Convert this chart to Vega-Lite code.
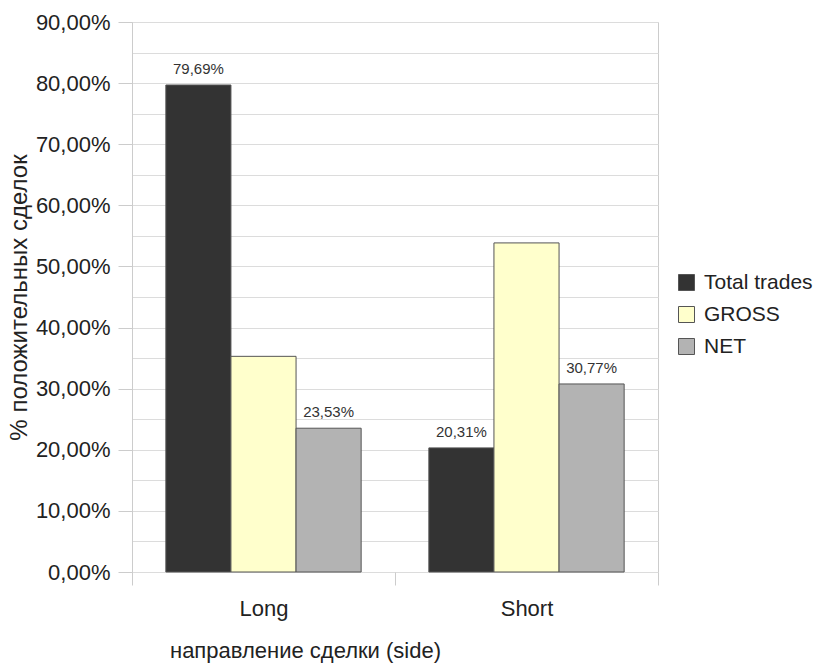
{
  "$schema": "https://vega.github.io/schema/vega-lite/v6.json",
  "width": 526,
  "height": 550,
  "autosize": {"type": "none"},
  "padding": {"left": 132, "top": 22, "right": 163, "bottom": 94},
  "background": "white",
  "config": {
    "locale": {"number": {"decimal": ",", "thousands": " ", "grouping": [3], "currency": ["", ""]}},
    "font": "Liberation Sans",
    "view": {"stroke": "#cccccc", "strokeWidth": 1}
  },
  "data": {
    "values": [
      {"side": "Long", "series": "Total trades", "value": 0.7969, "show": true},
      {"side": "Long", "series": "GROSS", "value": 0.3529, "show": false},
      {"side": "Long", "series": "NET", "value": 0.2353, "show": true},
      {"side": "Short", "series": "Total trades", "value": 0.2031, "show": true},
      {"side": "Short", "series": "GROSS", "value": 0.5385, "show": false},
      {"side": "Short", "series": "NET", "value": 0.3077, "show": true}
    ]
  },
  "encoding": {
    "x": {
      "field": "side", "type": "nominal",
      "scale": {"paddingInner": 0, "paddingOuter": 0},
      "axis": {
        "title": "направление сделки (side)",
        "labelAngle": 0, "labelFontSize": 22, "labelColor": "#222", "labelPadding": 13,
        "tickBand": "extent", "tickSize": 13, "tickColor": "#cccccc",
        "domain": false, "grid": false,
        "titleFontSize": 22, "titleFontWeight": "normal", "titleColor": "#222",
        "titleX": 173, "titleY": 78, "titleAlign": "center", "titleBaseline": "middle"
      }
    },
    "xOffset": {
      "field": "series", "type": "nominal",
      "sort": ["Total trades", "GROSS", "NET"],
      "scale": {"paddingInner": 0, "paddingOuter": 0.52}
    },
    "y": {
      "field": "value", "type": "quantitative",
      "scale": {"domain": [0, 0.9], "nice": false},
      "axis": {
        "title": "% положительных сделок",
        "values": [0, 0.05, 0.1, 0.15, 0.2, 0.25, 0.3, 0.35, 0.4, 0.45, 0.5, 0.55, 0.6, 0.65, 0.7, 0.75, 0.8, 0.85, 0.9],
        "format": ".2%",
        "labelExpr": "(round(datum.value*100) % 10 == 0) ? datum.label : ''",
        "labelFontSize": 22, "labelColor": "#222", "labelPadding": 8,
        "tickSize": 14,
        "tickColor": {"condition": {"test": "round(datum.value*100) % 10 != 0", "value": "transparent"}, "value": "#cccccc"},
        "gridColor": "#dcdcdc",
        "domainColor": "#cccccc",
        "titleFontSize": 24, "titleFontWeight": "normal", "titleColor": "#222",
        "titleX": -113, "titleY": 275, "titleAngle": -90, "titleAlign": "center", "titleBaseline": "middle"
      }
    }
  },
  "layer": [
    {
      "mark": {"type": "bar", "stroke": "#555555", "strokeWidth": 1},
      "encoding": {
        "color": {
          "field": "series", "type": "nominal",
          "sort": ["Total trades", "GROSS", "NET"],
          "scale": {"domain": ["Total trades", "GROSS", "NET"], "range": ["#333333", "#ffffcc", "#b3b3b3"]},
          "legend": {
            "title": null, "orient": "none", "legendX": 544, "legendY": 250,
            "symbolType": "square", "symbolSize": 256, "symbolStrokeColor": "#555555", "symbolStrokeWidth": 1,
            "labelFontSize": 21, "labelColor": "#222", "labelOffset": 7, "rowPadding": 10
          }
        }
      }
    },
    {
      "transform": [{"filter": "datum.show"}],
      "mark": {"type": "text", "baseline": "bottom", "dy": -8, "fontSize": 15, "color": "#333333"},
      "encoding": {
        "text": {"field": "value", "type": "quantitative", "format": ".2%"}
      }
    }
  ]
}
